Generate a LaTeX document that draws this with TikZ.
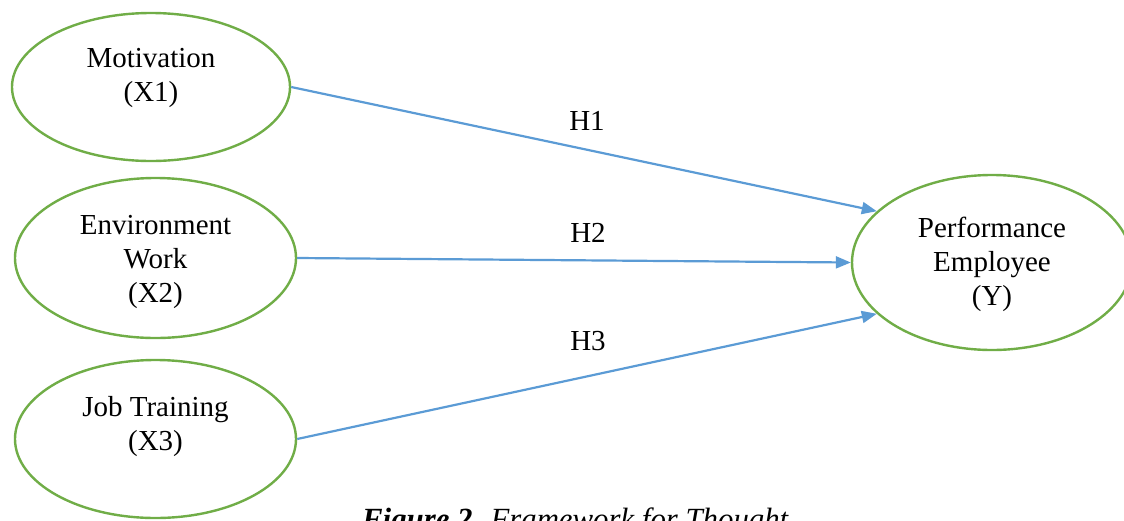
\documentclass[tikz,border=0pt]{standalone}
\usepackage{fontspec}
\setmainfont{Liberation Serif}
\usetikzlibrary{shapes.geometric,arrows.meta}
\definecolor{ellgreen}{HTML}{70AD47}
\definecolor{arrblue}{HTML}{5B9BD5}
\tikzset{
  varell/.style={ellipse, draw=ellgreen, line width=2.4pt, inner sep=0pt},
  vartext/.style={align=center, font=\fontsize{29}{34}\selectfont, inner sep=0pt},
  hyparrow/.style={draw=arrblue, line width=2.2pt, -{Triangle[length=15pt,width=12pt]}},
  hyplabel/.style={font=\fontsize{29}{34}\selectfont, inner sep=0pt}
}
\begin{document}
\begin{tikzpicture}[x=1pt,y=-1pt]
\useasboundingbox (0,0) rectangle (1124,520);
\node[varell, minimum width=278pt, minimum height=148pt] (mot) at (151,87) {};
\node[varell, minimum width=281pt, minimum height=160pt] (env) at (155.5,258) {};
\node[varell, minimum width=281pt, minimum height=158pt] (job) at (155.5,439) {};
\node[varell, minimum width=280pt, minimum height=175pt] (perf) at (992,262.5) {};
\node[vartext] (motT) at (151,78) {Motivation\\(X1)};
\node[vartext] (envT) at (155.5,262) {Environment\\Work\\(X2)};
\node[vartext] (jobT) at (155.5,427) {Job Training\\(X3)};
\node[vartext] (perfT) at (992,264) {Performance\\Employee\\(Y)};
\draw[hyparrow] (mot.east) -- (perf.156);
\draw[hyparrow] (env.east) -- (perf.west);
\draw[hyparrow] (job.east) -- (perf.204);
\node[hyplabel] (h1) at (587,121) {H1};
\node[hyplabel] (h2) at (588,232.5) {H2};
\node[hyplabel] (h3) at (588,341) {H3};
\node[anchor=base west, inner sep=0pt, font=\fontsize{30.8}{36}\selectfont] (cap) at (362,529) {\textbf{\textit{Figure 2.}} \textit{Framework for Thought}};
\end{tikzpicture}
\end{document}
